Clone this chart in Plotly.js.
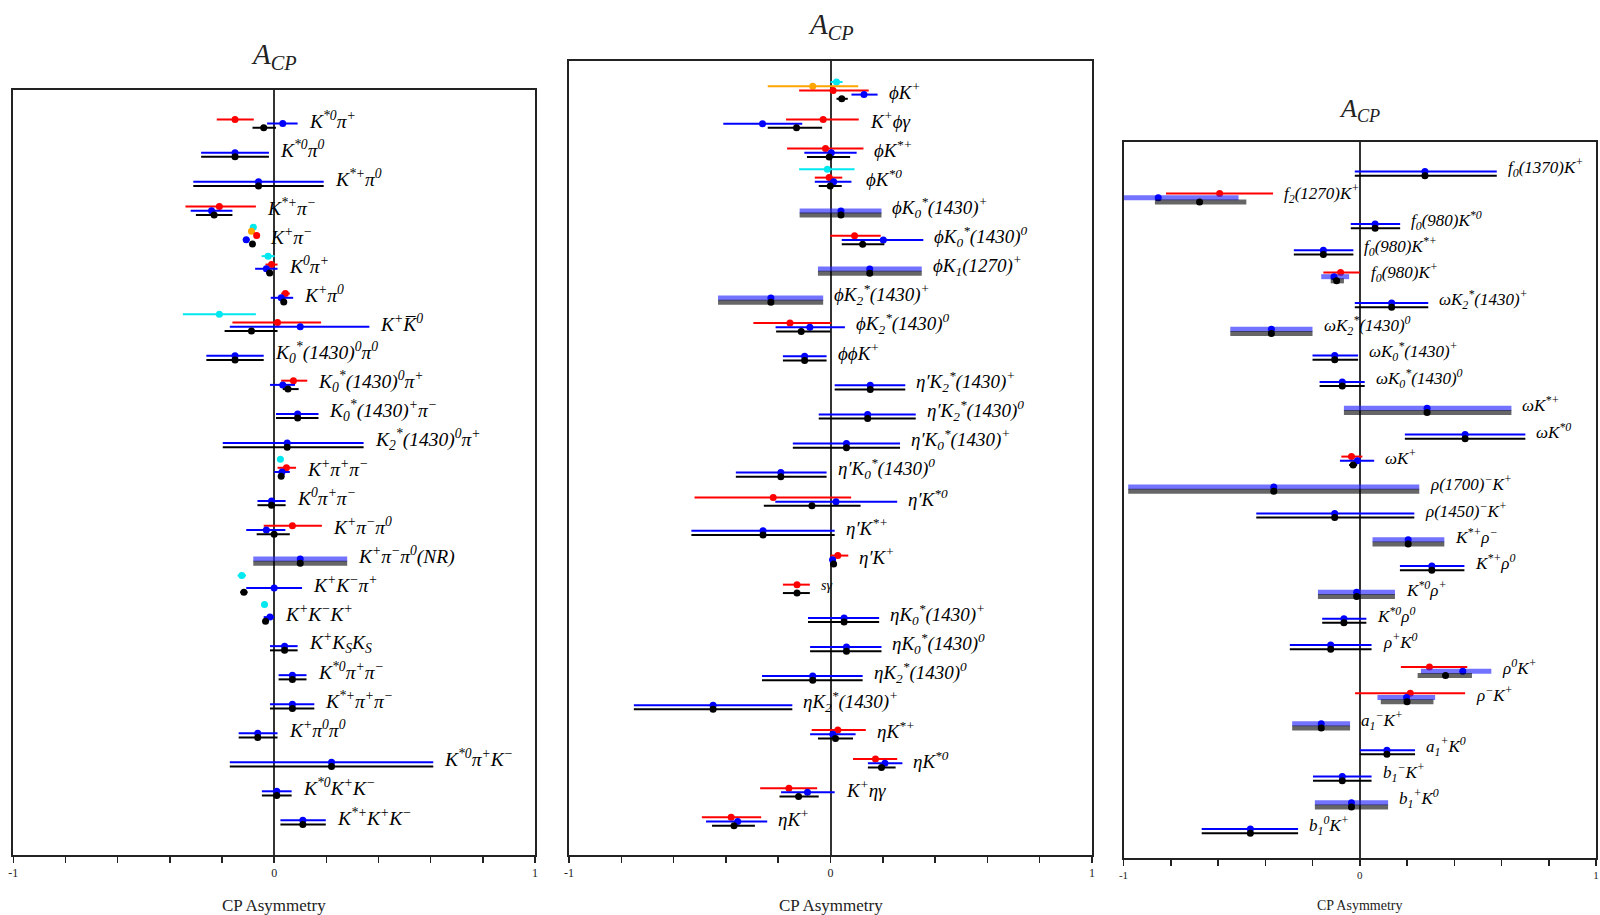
<!DOCTYPE html>
<html><head><meta charset="utf-8">
<script src="https://cdn.plot.ly/plotly-3.0.1.min.js"></script>
<style>html,body{margin:0;padding:0;background:#fff}#chart{width:1600px;height:915px}</style>
</head><body><div id="chart"></div>
<script>
// ---------- Panel 1 ----------
const labels1 = [
 'K<sup>*0</sup>π<sup>+</sup>','K<sup>*0</sup>π<sup>0</sup>','K<sup>*+</sup>π<sup>0</sup>','K<sup>*+</sup>π<sup>−</sup>',
 'K<sup>+</sup>π<sup>−</sup>','K<sup>0</sup>π<sup>+</sup>','K<sup>+</sup>π<sup>0</sup>','K<sup>+</sup>K̅<sup>0</sup>',
 'K<sub>0</sub><sup>*</sup>(1430)<sup>0</sup>π<sup>0</sup>','K<sub>0</sub><sup>*</sup>(1430)<sup>0</sup>π<sup>+</sup>',
 'K<sub>0</sub><sup>*</sup>(1430)<sup>+</sup>π<sup>−</sup>','K<sub>2</sub><sup>*</sup>(1430)<sup>0</sup>π<sup>+</sup>',
 'K<sup>+</sup>π<sup>+</sup>π<sup>−</sup>','K<sup>0</sup>π<sup>+</sup>π<sup>−</sup>','K<sup>+</sup>π<sup>−</sup>π<sup>0</sup>',
 'K<sup>+</sup>π<sup>−</sup>π<sup>0</sup>(NR)','K<sup>+</sup>K<sup>−</sup>π<sup>+</sup>','K<sup>+</sup>K<sup>−</sup>K<sup>+</sup>',
 'K<sup>+</sup>K<sub>S</sub>K<sub>S</sub>','K<sup>*0</sup>π<sup>+</sup>π<sup>−</sup>','K<sup>*+</sup>π<sup>+</sup>π<sup>−</sup>',
 'K<sup>+</sup>π<sup>0</sup>π<sup>0</sup>','K<sup>*0</sup>π<sup>+</sup>K<sup>−</sup>','K<sup>*0</sup>K<sup>+</sup>K<sup>−</sup>',
 'K<sup>*+</sup>K<sup>+</sup>K<sup>−</sup>'];
// each entry: [low, value, high]
const blue1 = [[-0.027,0.033,0.09],[-0.28,-0.15,-0.02],[-0.31,-0.06,0.19],[-0.32,-0.24,-0.16],
 [-0.12,-0.107,-0.094],[-0.073,-0.03,0.013],[-0.013,0.027,0.073],[-0.17,0.10,0.365],
 [-0.26,-0.15,-0.04],[-0.016,0.033,0.08],[0.007,0.09,0.17],[-0.197,0.05,0.343],
 [0.0,0.03,0.06],[-0.064,-0.01,0.044],[-0.107,-0.03,0.043],[-0.08,0.10,0.28],
 [-0.107,0.0,0.107],[-0.04,-0.016,0.0],[-0.016,0.04,0.09],[0.017,0.07,0.124],
 [-0.016,0.07,0.154],[-0.136,-0.063,0.013],[-0.17,0.22,0.61],[-0.047,0.01,0.067],[0.024,0.11,0.198]];
const black1 = [[-0.083,-0.04,0.007],[-0.28,-0.15,-0.02],[-0.31,-0.06,0.19],[-0.30,-0.23,-0.16],
 [-0.092,-0.083,-0.074],[-0.03,-0.017,-0.004],[0.025,0.037,0.049],[-0.19,-0.087,0.013],
 [-0.26,-0.15,-0.04],[0.033,0.053,0.094],[0.007,0.09,0.17],[-0.197,0.05,0.343],
 [0.017,0.027,0.037],[-0.064,-0.01,0.044],[-0.067,0.0,0.06],[-0.08,0.10,0.28],
 [-0.13,-0.116,-0.102],[-0.043,-0.033,-0.023],[-0.016,0.04,0.09],[0.017,0.07,0.124],
 [-0.016,0.07,0.154],[-0.136,-0.063,0.013],[-0.17,0.22,0.61],[-0.047,0.01,0.067],[0.024,0.11,0.198]];
const red1 = [[-0.22,-0.15,-0.078],null,null,[-0.34,-0.21,-0.07],
 [-0.075,-0.067,-0.059],[-0.033,-0.01,0.013],[0.027,0.043,0.06],[-0.16,0.013,0.18],
 null,[0.027,0.074,0.127],null,null,[0.013,0.047,0.084],null,[-0.04,0.07,0.183],
 null,null,null,null,null,null,null,null,null,null];
const cyan1 = [null,null,null,null,[-0.09,-0.08,-0.07],[-0.048,-0.023,0.002],null,[-0.35,-0.21,-0.07],
 null,null,null,null,[0.016,0.024,0.032],null,null,null,[-0.14,-0.124,-0.108],[-0.045,-0.037,-0.029],
 null,null,null,null,null,null,null];
const orange1 = [null,null,null,null,[-0.095,-0.087,-0.079],null,null,null,null,null,null,null,
 null,null,null,null,null,null,null,null,null,null,null,null,null];
const thick1 = [15];

// ---------- Panel 2 ----------
const labels2 = [
 'ϕK<sup>+</sup>','K<sup>+</sup>ϕγ','ϕK<sup>*+</sup>','ϕK<sup>*0</sup>',
 'ϕK<sub>0</sub><sup>*</sup>(1430)<sup>+</sup>','ϕK<sub>0</sub><sup>*</sup>(1430)<sup>0</sup>',
 'ϕK<sub>1</sub>(1270)<sup>+</sup>','ϕK<sub>2</sub><sup>*</sup>(1430)<sup>+</sup>',
 'ϕK<sub>2</sub><sup>*</sup>(1430)<sup>0</sup>','ϕϕK<sup>+</sup>',
 'η′K<sub>2</sub><sup>*</sup>(1430)<sup>+</sup>','η′K<sub>2</sub><sup>*</sup>(1430)<sup>0</sup>',
 'η′K<sub>0</sub><sup>*</sup>(1430)<sup>+</sup>','η′K<sub>0</sub><sup>*</sup>(1430)<sup>0</sup>',
 'η′K<sup>*0</sup>','η′K<sup>*+</sup>','η′K<sup>+</sup>','sγ',
 'ηK<sub>0</sub><sup>*</sup>(1430)<sup>+</sup>','ηK<sub>0</sub><sup>*</sup>(1430)<sup>0</sup>',
 'ηK<sub>2</sub><sup>*</sup>(1430)<sup>0</sup>','ηK<sub>2</sub><sup>*</sup>(1430)<sup>+</sup>',
 'ηK<sup>*+</sup>','ηK<sup>*0</sup>','K<sup>+</sup>ηγ','ηK<sup>+</sup>'];
const blue2 = [[0.08,0.128,0.18],[-0.41,-0.26,-0.108],[-0.1,0.003,0.1],[-0.06,0.012,0.08],
 [-0.118,0.04,0.195],[0.043,0.202,0.355],[-0.048,0.15,0.349],[-0.43,-0.228,-0.028],
 [-0.21,-0.079,0.055],[-0.182,-0.099,-0.015],[0.016,0.152,0.286],[-0.045,0.142,0.326],
 [-0.144,0.061,0.266],[-0.362,-0.19,-0.015],[-0.211,0.021,0.255],[-0.532,-0.258,0.016],
 [-0.004,0.008,0.02],null,[-0.086,0.052,0.186],[-0.078,0.061,0.195],
 [-0.262,-0.068,0.123],[-0.752,-0.449,-0.146],[-0.078,0.009,0.096],[0.143,0.208,0.275],
 [-0.189,-0.088,0.016],[-0.476,-0.355,-0.242]];
const black2 = [[0.023,0.043,0.066],[-0.24,-0.13,-0.032],[-0.09,-0.005,0.075],[-0.045,-0.001,0.043],
 [-0.118,0.04,0.195],[0.043,0.123,0.206],[-0.048,0.15,0.349],[-0.43,-0.228,-0.028],
 [-0.208,-0.112,0.0],[-0.182,-0.099,-0.015],[0.016,0.152,0.286],[-0.045,0.142,0.326],
 [-0.144,0.061,0.266],[-0.362,-0.19,-0.015],[-0.255,-0.071,0.115],[-0.532,-0.258,0.016],
 [0.0,0.012,0.024],[-0.182,-0.128,-0.079],[-0.086,0.052,0.186],[-0.078,0.061,0.195],
 [-0.262,-0.068,0.123],[-0.752,-0.449,-0.146],[-0.048,0.019,0.086],[0.143,0.195,0.249],
 [-0.195,-0.122,-0.045],[-0.453,-0.369,-0.289]];
const red2 = [[-0.12,0.01,0.146],[-0.17,-0.028,0.108],[-0.166,-0.019,0.126],[-0.06,-0.005,0.045],
 null,[-0.001,0.092,0.192],null,null,[-0.295,-0.155,0.003],null,null,null,null,null,
 [-0.52,-0.219,0.079],null,[0.0,0.028,0.068],[-0.182,-0.128,-0.079],null,null,null,null,
 [-0.072,0.028,0.135],[0.086,0.172,0.255],[-0.269,-0.159,-0.051],[-0.492,-0.38,-0.265]];
const cyan2 = [[0.0,0.023,0.046],null,null,[-0.12,-0.012,0.092],null,null,null,null,null,null,
 null,null,null,null,null,null,null,null,null,null,null,null,null,null,null,null];
const orange2 = [[-0.24,-0.068,0.106],null,null,null,null,null,null,null,null,null,
 null,null,null,null,null,null,null,null,null,null,null,null,null,null,null,null];
const thick2 = [4,6,7];

// ---------- Panel 3 ----------
const labels3 = [
 'f<sub>0</sub>(1370)K<sup>+</sup>','f<sub>2</sub>(1270)K<sup>+</sup>','f<sub>0</sub>(980)K<sup>*0</sup>',
 'f<sub>0</sub>(980)K<sup>*+</sup>','f<sub>0</sub>(980)K<sup>+</sup>','ωK<sub>2</sub><sup>*</sup>(1430)<sup>+</sup>',
 'ωK<sub>2</sub><sup>*</sup>(1430)<sup>0</sup>','ωK<sub>0</sub><sup>*</sup>(1430)<sup>+</sup>',
 'ωK<sub>0</sub><sup>*</sup>(1430)<sup>0</sup>','ωK<sup>*+</sup>','ωK<sup>*0</sup>','ωK<sup>+</sup>',
 'ρ(1700)<sup>−</sup>K<sup>+</sup>','ρ(1450)<sup>−</sup>K<sup>+</sup>','K<sup>*+</sup>ρ<sup>−</sup>',
 'K<sup>*+</sup>ρ<sup>0</sup>','K<sup>*0</sup>ρ<sup>+</sup>','K<sup>*0</sup>ρ<sup>0</sup>',
 'ρ<sup>+</sup>K<sup>0</sup>','ρ<sup>0</sup>K<sup>+</sup>','ρ<sup>−</sup>K<sup>+</sup>',
 'a<sub>1</sub><sup>−</sup>K<sup>+</sup>','a<sub>1</sub><sup>+</sup>K<sup>0</sup>',
 'b<sub>1</sub><sup>−</sup>K<sup>+</sup>','b<sub>1</sub><sup>+</sup>K<sup>0</sup>','b<sub>1</sub><sup>0</sup>K<sup>+</sup>'];
const blue3 = [[-0.021,0.276,0.58],[-1.2,-0.853,-0.513],[-0.038,0.065,0.171],[-0.279,-0.154,-0.027],
 [-0.163,-0.109,-0.045],[-0.021,0.135,0.29],[-0.548,-0.374,-0.2],[-0.2,-0.106,-0.007],
 [-0.17,-0.074,0.021],[-0.067,0.285,0.642],[0.191,0.446,0.701],[-0.084,-0.01,0.061],
 [-0.98,-0.364,0.252],[-0.438,-0.106,0.231],[0.054,0.205,0.358],[0.17,0.305,0.443],
 [-0.177,-0.013,0.149],[-0.159,-0.067,0.028],[-0.296,-0.123,0.05],[0.259,0.436,0.557],
 [0.075,0.198,0.319],[-0.286,-0.163,-0.041],[0.0,0.115,0.234],[-0.198,-0.074,0.05],
 [-0.19,-0.035,0.12],[-0.669,-0.463,-0.261]];
const black3 = [[-0.021,0.276,0.58],[-0.867,-0.678,-0.48],[-0.038,0.065,0.171],[-0.279,-0.154,-0.027],
 [-0.123,-0.098,-0.067],[-0.021,0.135,0.29],[-0.548,-0.374,-0.2],[-0.2,-0.106,-0.007],
 [-0.17,-0.074,0.021],[-0.067,0.285,0.642],[0.191,0.446,0.701],[-0.045,-0.028,-0.011],
 [-0.98,-0.364,0.252],[-0.438,-0.106,0.231],[0.054,0.205,0.358],[0.17,0.305,0.443],
 [-0.177,-0.013,0.149],[-0.159,-0.067,0.028],[-0.296,-0.123,0.05],[0.245,0.363,0.475],
 [0.089,0.2,0.312],[-0.286,-0.163,-0.041],[0.0,0.115,0.234],[-0.198,-0.074,0.05],
 [-0.19,-0.035,0.12],[-0.669,-0.463,-0.261]];
const red3 = [null,[-0.82,-0.593,-0.367],null,null,[-0.154,-0.081,0.0],null,null,null,null,null,null,
 [-0.078,-0.035,0.011],null,null,null,null,null,null,null,[0.174,0.295,0.455],[-0.02,0.214,0.446],
 null,null,null,null,null];
const thick3 = [1,4,6,9,12,14,16,19,20,21,24];

const tickVals = [-1,-0.8,-0.6,-0.4,-0.2,0,0.2,0.4,0.6,0.8,1];
const tickText = ['-1','','','','','0','','','','','1'];

// ---------- geometry / styles ----------
const W = 1600, H = 915;
const panels = [
  {labels: labels1, series: {cyan: cyan1, orange: orange1, red: red1, blue: blue1, black: black1}, thick: thick1,
   left: 13.3, right: 535, top: 89.8, bottom: 855, yr: [25.05, -1.31], sp: 29.0, fs: 19.5, tfs: 12, title: 56},
  {labels: labels2, series: {cyan: cyan2, orange: orange2, red: red2, blue: blue2, black: black2}, thick: thick2,
   left: 569, right: 1092, top: 61, bottom: 855, yr: [26.01, -1.30], sp: 29.1, fs: 19, tfs: 12, title: 26},
  {labels: labels3, series: {red: red3, blue: blue3, black: black3}, thick: thick3,
   left: 1123.5, right: 1596, top: 141.7, bottom: 858, yr: [25.94, -1.29], sp: 26.3, fs: 17, tfs: 11, title: 110}
];
const sStyle = {
  cyan:   {color: '#00e8f0', slot: 4},
  orange: {color: '#ffa500', slot: 3},
  red:    {color: '#ff0000', slot: 2},
  blue:   {color: '#0000ff', slot: 1},
  black:  {color: '#000000', slot: 0}
};
const thickColor = {blue: 'rgba(40,40,255,0.65)', black: 'rgba(0,0,0,0.6)'};

const traces = [];
const annotations = [];
const layout = {
  width: W, height: H, margin: {l: 0, r: 0, t: 0, b: 0},
  paper_bgcolor: '#fff', plot_bgcolor: '#fff', showlegend: false,
  font: {family: 'Liberation Serif', color: '#000'}
};

panels.forEach((p, k) => {
  const n = k + 1;
  const xa = n === 1 ? 'x' : 'x' + n, ya = n === 1 ? 'y' : 'y' + n;
  const xkey = n === 1 ? 'xaxis' : 'xaxis' + n, ykey = n === 1 ? 'yaxis' : 'yaxis' + n;
  layout[xkey] = {
    domain: [p.left / W, p.right / W], anchor: ya, range: [-1, 1], fixedrange: true,
    tickvals: tickVals, ticktext: tickText, ticks: 'outside', ticklen: 6, tickwidth: 1.5, tickcolor: '#222',
    tickfont: {family: 'Liberation Serif', size: p.tfs, color: '#222'},
    showgrid: false, zeroline: true, zerolinecolor: '#333', zerolinewidth: 2,
    showline: true, mirror: true, linecolor: '#222', linewidth: 2
  };
  layout[ykey] = {
    domain: [1 - p.bottom / H, 1 - p.top / H], anchor: xa, range: p.yr, fixedrange: true,
    showticklabels: false, ticks: '', showgrid: false, zeroline: false,
    showline: true, mirror: true, linecolor: '#222', linewidth: 2
  };
  Object.keys(p.series).forEach(name => {
    const data = p.series[name];
    const st = sStyle[name];
    [false, true].forEach(isThick => {
      const xs = [], ys = [], ep = [], em = [];
      data.forEach((d, i) => {
        if (!d) return;
        const th = (name === 'blue' || name === 'black') && p.thick.includes(i);
        if (th !== isThick) return;
        xs.push(d[1]); ys.push(i - st.slot * 4.2 / p.sp);
        ep.push(d[2] - d[1]); em.push(d[1] - d[0]);
      });
      if (!xs.length) return;
      traces.push({
        type: 'scatter', mode: 'markers', xaxis: xa, yaxis: ya, x: xs, y: ys,
        marker: {color: st.color, size: 7},
        error_x: {type: 'data', symmetric: false, array: ep, arrayminus: em, width: 0,
                  color: isThick ? thickColor[name] : st.color, thickness: isThick ? 5 : 2},
        hoverinfo: 'x'
      });
    });
  });
  // row labels, placed just right of the rightmost bar end
  p.labels.forEach((lab, i) => {
    let maxEnd = -Infinity;
    Object.keys(p.series).forEach(name => { const d = p.series[name][i]; if (d) maxEnd = Math.max(maxEnd, d[2]); });
    annotations.push({
      xref: xa, yref: ya, x: Math.max(maxEnd, -0.98), y: i - 8 / p.sp, xanchor: 'left', yanchor: 'middle',
      xshift: 9, showarrow: false, text: '<i>' + lab + '</i>',
      font: {family: 'Liberation Serif', size: lab === 'sγ' ? p.fs - 5 : p.fs, color: '#000'}
    });
  });
  // panel title
  annotations.push({
    xref: xa, yref: 'paper', x: 0, y: 1 - p.title / H, xanchor: 'center', yanchor: 'middle', showarrow: false,
    text: '<i>A</i><sub><i>CP</i></sub>', font: {family: 'Liberation Serif', size: n === 3 ? 26 : 29, color: '#222'}
  });
  // axis title
  annotations.push({
    xref: xa, yref: 'paper', x: 0, y: 1 - 905 / H, xanchor: 'center', yanchor: 'middle', showarrow: false,
    text: 'CP Asymmetry', font: {family: 'Liberation Serif', size: n === 3 ? 14 : 17, color: '#222'}
  });
});
layout.annotations = annotations;

Plotly.newPlot('chart', traces, layout, {staticPlot: true, displayModeBar: false});
</script></body></html>
